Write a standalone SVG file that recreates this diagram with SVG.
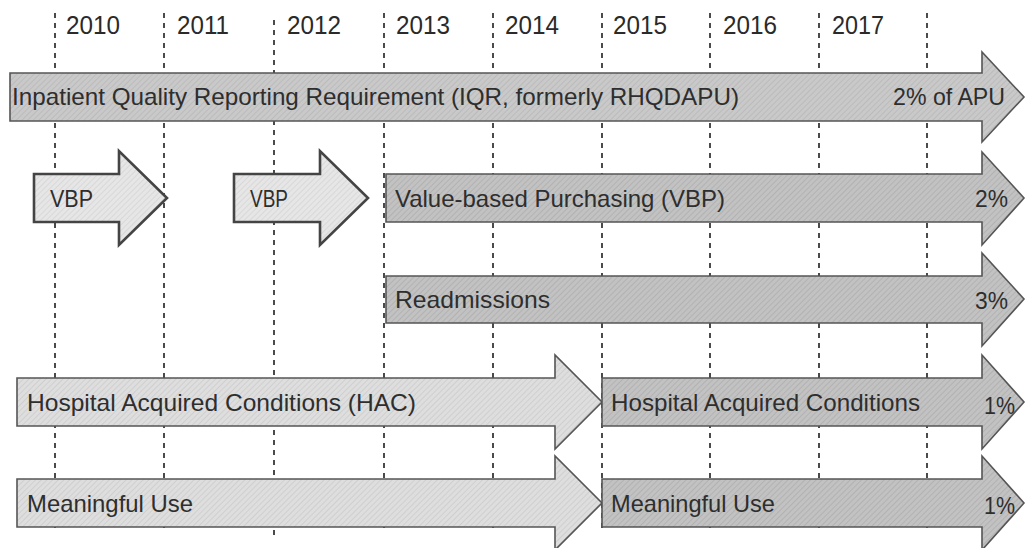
<svg xmlns="http://www.w3.org/2000/svg" width="1026" height="548" viewBox="0 0 1026 548">
<style>
.grid{stroke:#1e1e1e;stroke-width:1.6;stroke-dasharray:5 5;fill:none}
.yr{font-family:"Liberation Sans",Arial,sans-serif;font-size:25px;fill:#2a2a2a}
.lbl{font-family:"Liberation Sans",Arial,sans-serif;font-size:24px;fill:#2e2e2e}
.arr{stroke:#555;stroke-width:1.6;stroke-linejoin:miter}
.small{stroke:#444;stroke-width:2.6}
.mid{fill:url(#pMid)}
.dark{fill:url(#pDark)}
.light{fill:url(#pLight)}
.vlight{fill:url(#pVLight)}
</style>
<defs>
<pattern id="pMid" width="4" height="4" patternUnits="userSpaceOnUse" patternTransform="rotate(45)">
<rect width="4" height="4" fill="#c9c9c9"/><line x1="0" y1="0" x2="0" y2="4" stroke="#b2b2b2" stroke-width="1.2"/>
</pattern>
<pattern id="pDark" width="4" height="4" patternUnits="userSpaceOnUse" patternTransform="rotate(45)">
<rect width="4" height="4" fill="#c2c2c2"/><line x1="0" y1="0" x2="0" y2="4" stroke="#a8a8a8" stroke-width="1.2"/>
</pattern>
<pattern id="pLight" width="4" height="4" patternUnits="userSpaceOnUse" patternTransform="rotate(45)">
<rect width="4" height="4" fill="#dedede"/><line x1="0" y1="0" x2="0" y2="4" stroke="#c6c6c6" stroke-width="1.2"/>
</pattern>
<pattern id="pVLight" width="4" height="4" patternUnits="userSpaceOnUse" patternTransform="rotate(45)">
<rect width="4" height="4" fill="#e6e6e6"/><line x1="0" y1="0" x2="0" y2="4" stroke="#cfcfcf" stroke-width="1.2"/>
</pattern>
</defs>
<rect width="1026" height="548" fill="#ffffff"/>

<g id="gridlines">
<line class="grid" x1="55" y1="13" x2="55" y2="530"/>
<line class="grid" x1="164" y1="13" x2="164" y2="530"/>
<line class="grid" x1="274" y1="20" x2="274" y2="537"/>
<line class="grid" x1="384" y1="13" x2="384" y2="530"/>
<line class="grid" x1="493" y1="13" x2="493" y2="530"/>
<line class="grid" x1="602" y1="13" x2="602" y2="530"/>
<line class="grid" x1="710" y1="13" x2="710" y2="530"/>
<line class="grid" x1="819" y1="13" x2="819" y2="530"/>
<line class="grid" x1="927" y1="13" x2="927" y2="530"/>
</g>

<g id="years">
<text class="yr" x="66" y="34" textLength="54" lengthAdjust="spacingAndGlyphs">2010</text>
<text class="yr" x="177" y="34" textLength="52" lengthAdjust="spacingAndGlyphs">2011</text>
<text class="yr" x="287" y="34" textLength="54" lengthAdjust="spacingAndGlyphs">2012</text>
<text class="yr" x="396" y="34" textLength="54" lengthAdjust="spacingAndGlyphs">2013</text>
<text class="yr" x="505" y="34" textLength="54" lengthAdjust="spacingAndGlyphs">2014</text>
<text class="yr" x="613" y="34" textLength="54" lengthAdjust="spacingAndGlyphs">2015</text>
<text class="yr" x="723" y="34" textLength="54" lengthAdjust="spacingAndGlyphs">2016</text>
<text class="yr" x="832" y="34" textLength="52" lengthAdjust="spacingAndGlyphs">2017</text>
</g>

<g id="iqr">
<path class="arr mid" d="M10 73 H982 V52 L1024 97 L982 142 V121 H10 Z"/>
<text class="lbl" x="12" y="105" textLength="727" lengthAdjust="spacingAndGlyphs">Inpatient Quality Reporting Requirement (IQR, formerly RHQDAPU)</text>
<text class="lbl" x="893" y="105" textLength="112" lengthAdjust="spacingAndGlyphs">2% of APU</text>
</g>

<g id="vbp-2010">
<path class="arr small vlight" d="M34 174 H119 V151 L167 198 L119 245 V222 H34 Z"/>
<text class="lbl" x="50" y="207" textLength="43" lengthAdjust="spacingAndGlyphs">VBP</text>
</g>

<g id="vbp-2012">
<path class="arr small vlight" d="M234 174 H320 V151 L368 198 L320 245 V222 H234 Z"/>
<text class="lbl" x="250" y="207" textLength="38" lengthAdjust="spacingAndGlyphs">VBP</text>
</g>

<g id="vbp">
<path class="arr dark" d="M386 174 H982 V152 L1024 198 L982 245 V222 H386 Z"/>
<text class="lbl" x="395" y="207" textLength="330" lengthAdjust="spacingAndGlyphs">Value-based Purchasing (VBP)</text>
<text class="lbl" x="975" y="207" textLength="33" lengthAdjust="spacingAndGlyphs">2%</text>
</g>

<g id="readmissions">
<path class="arr dark" d="M386 276 H982 V253 L1024 299 L982 346 V323 H386 Z"/>
<text class="lbl" x="395" y="308" textLength="155" lengthAdjust="spacingAndGlyphs">Readmissions</text>
<text class="lbl" x="975" y="309" textLength="33" lengthAdjust="spacingAndGlyphs">3%</text>
</g>

<g id="hac-early">
<path class="arr light" d="M17 378 H555 V355 L602 402 L555 449 V426 H17 Z"/>
<text class="lbl" x="27" y="411" textLength="389" lengthAdjust="spacingAndGlyphs">Hospital Acquired Conditions (HAC)</text>
</g>

<g id="hac">
<path class="arr dark" d="M602 378 H982 V355 L1024 402 L982 449 V426 H602 Z"/>
<text class="lbl" x="611" y="411" textLength="309" lengthAdjust="spacingAndGlyphs">Hospital Acquired Conditions</text>
<text class="lbl" x="984" y="414" textLength="31" lengthAdjust="spacingAndGlyphs">1%</text>
</g>

<g id="mu-early">
<path class="arr light" d="M17 479 H555 V456 L602 503 L555 550 V527 H17 Z"/>
<text class="lbl" x="27" y="512" textLength="166" lengthAdjust="spacingAndGlyphs">Meaningful Use</text>
</g>

<g id="mu">
<path class="arr dark" d="M602 479 H982 V456 L1024 503 L982 550 V527 H602 Z"/>
<text class="lbl" x="611" y="512" textLength="164" lengthAdjust="spacingAndGlyphs">Meaningful Use</text>
<text class="lbl" x="984" y="514" textLength="31" lengthAdjust="spacingAndGlyphs">1%</text>
</g>
</svg>
